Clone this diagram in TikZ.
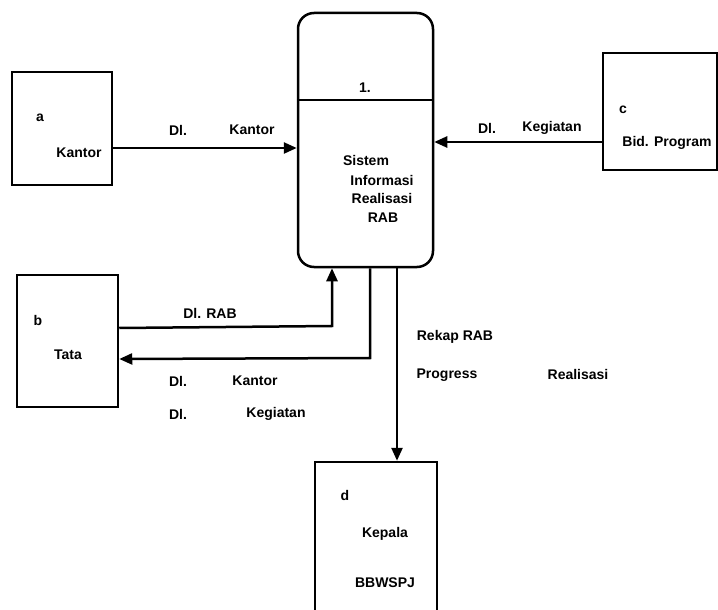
\documentclass[tikz,border=0pt]{standalone}
\usepackage{fontspec}
\setmainfont{Liberation Sans}
\usetikzlibrary{arrows.meta}
\begin{document}
\begin{tikzpicture}[x=1pt,y=-1pt,
  line width=2.5pt,
  ent/.style={draw,rectangle,inner sep=0pt},
  txt/.style={font=\bfseries\fontsize{14}{16}\selectfont,inner sep=0pt},
  arr/.style={-{Triangle[length=13pt,width=11pt]}}]
\useasboundingbox (0,0) rectangle (718,610);
\clip (0,0) rectangle (718,610);
% entities
\node[ent,minimum width=100pt,minimum height=113pt] (a) at (62,128.5) {};
\node[ent,minimum width=101pt,minimum height=132pt] (b) at (67.5,341) {};
\node[ent,minimum width=114pt,minimum height=117pt] (c) at (660,111.5) {};
\node[ent,minimum width=122pt,minimum height=180pt] (d) at (376,552) {};
% process
\node[draw,rectangle,rounded corners=16pt,minimum width=135pt,minimum height=254pt,inner sep=0pt] (p) at (365.5,140) {};
\draw (p.west |- 0,100) -- (p.east |- 0,100);
% texts
\node[txt] (la) at (40,118) {a};
\node[txt] (ka) at (79,153) {Kantor};
\node[txt] (lb) at (38,320) {b};
\node[txt] (tb) at (68,355) {Tata};
\node[txt] (lc) at (623,110) {c};
\node[txt] (bc) at (667,143) {Bid. Program};
\node[txt] (ld) at (345,495) {d};
\node[txt] (kd) at (385,534) {Kepala};
\node[txt] (bd) at (385,583) {BBWSPJ};
\node[txt] (n1) at (365,88) {1.};
\node[txt] (s1) at (366,160) {Sistem};
\node[txt] (s2) at (382,180) {Informasi};
\node[txt] (s3) at (382,198) {Realisasi};
\node[txt] (s4) at (383,218) {RAB};
% flows
\draw[arr] (a.east |- 0,148) -- (p.west |- 0,148);
\node[txt] (f1a) at (178,130) {Dl.};
\node[txt] (f1b) at (252,130) {Kantor};
\draw[arr] (c.west |- 0,142) -- (p.east |- 0,142);
\node[txt] (f2a) at (487,128) {Dl.};
\node[txt] (f2b) at (552,128) {Kegiatan};
\draw[arr] (b.east |- 0,328) -- (332,326) -- (p.south -| 332,0);
\node[txt] (f3) at (210,313) {Dl. RAB};
\draw[arr] (p.south -| 370,0) -- (370,358) -- (b.east |- 0,359);
\node[txt] (f4a) at (178,381) {Dl.};
\node[txt] (f4b) at (255,381) {Kantor};
\node[txt] (f4c) at (178,414) {Dl.};
\node[txt] (f4d) at (276,414) {Kegiatan};
\draw[arr] (p.south -| 397,0) -- (d.north -| 397,0);
\node[txt] (f5a) at (455,337) {Rekap RAB};
\node[txt] (f5b) at (447,375) {Progress};
\node[txt] (f5c) at (578,374) {Realisasi};
\end{tikzpicture}
\end{document}
